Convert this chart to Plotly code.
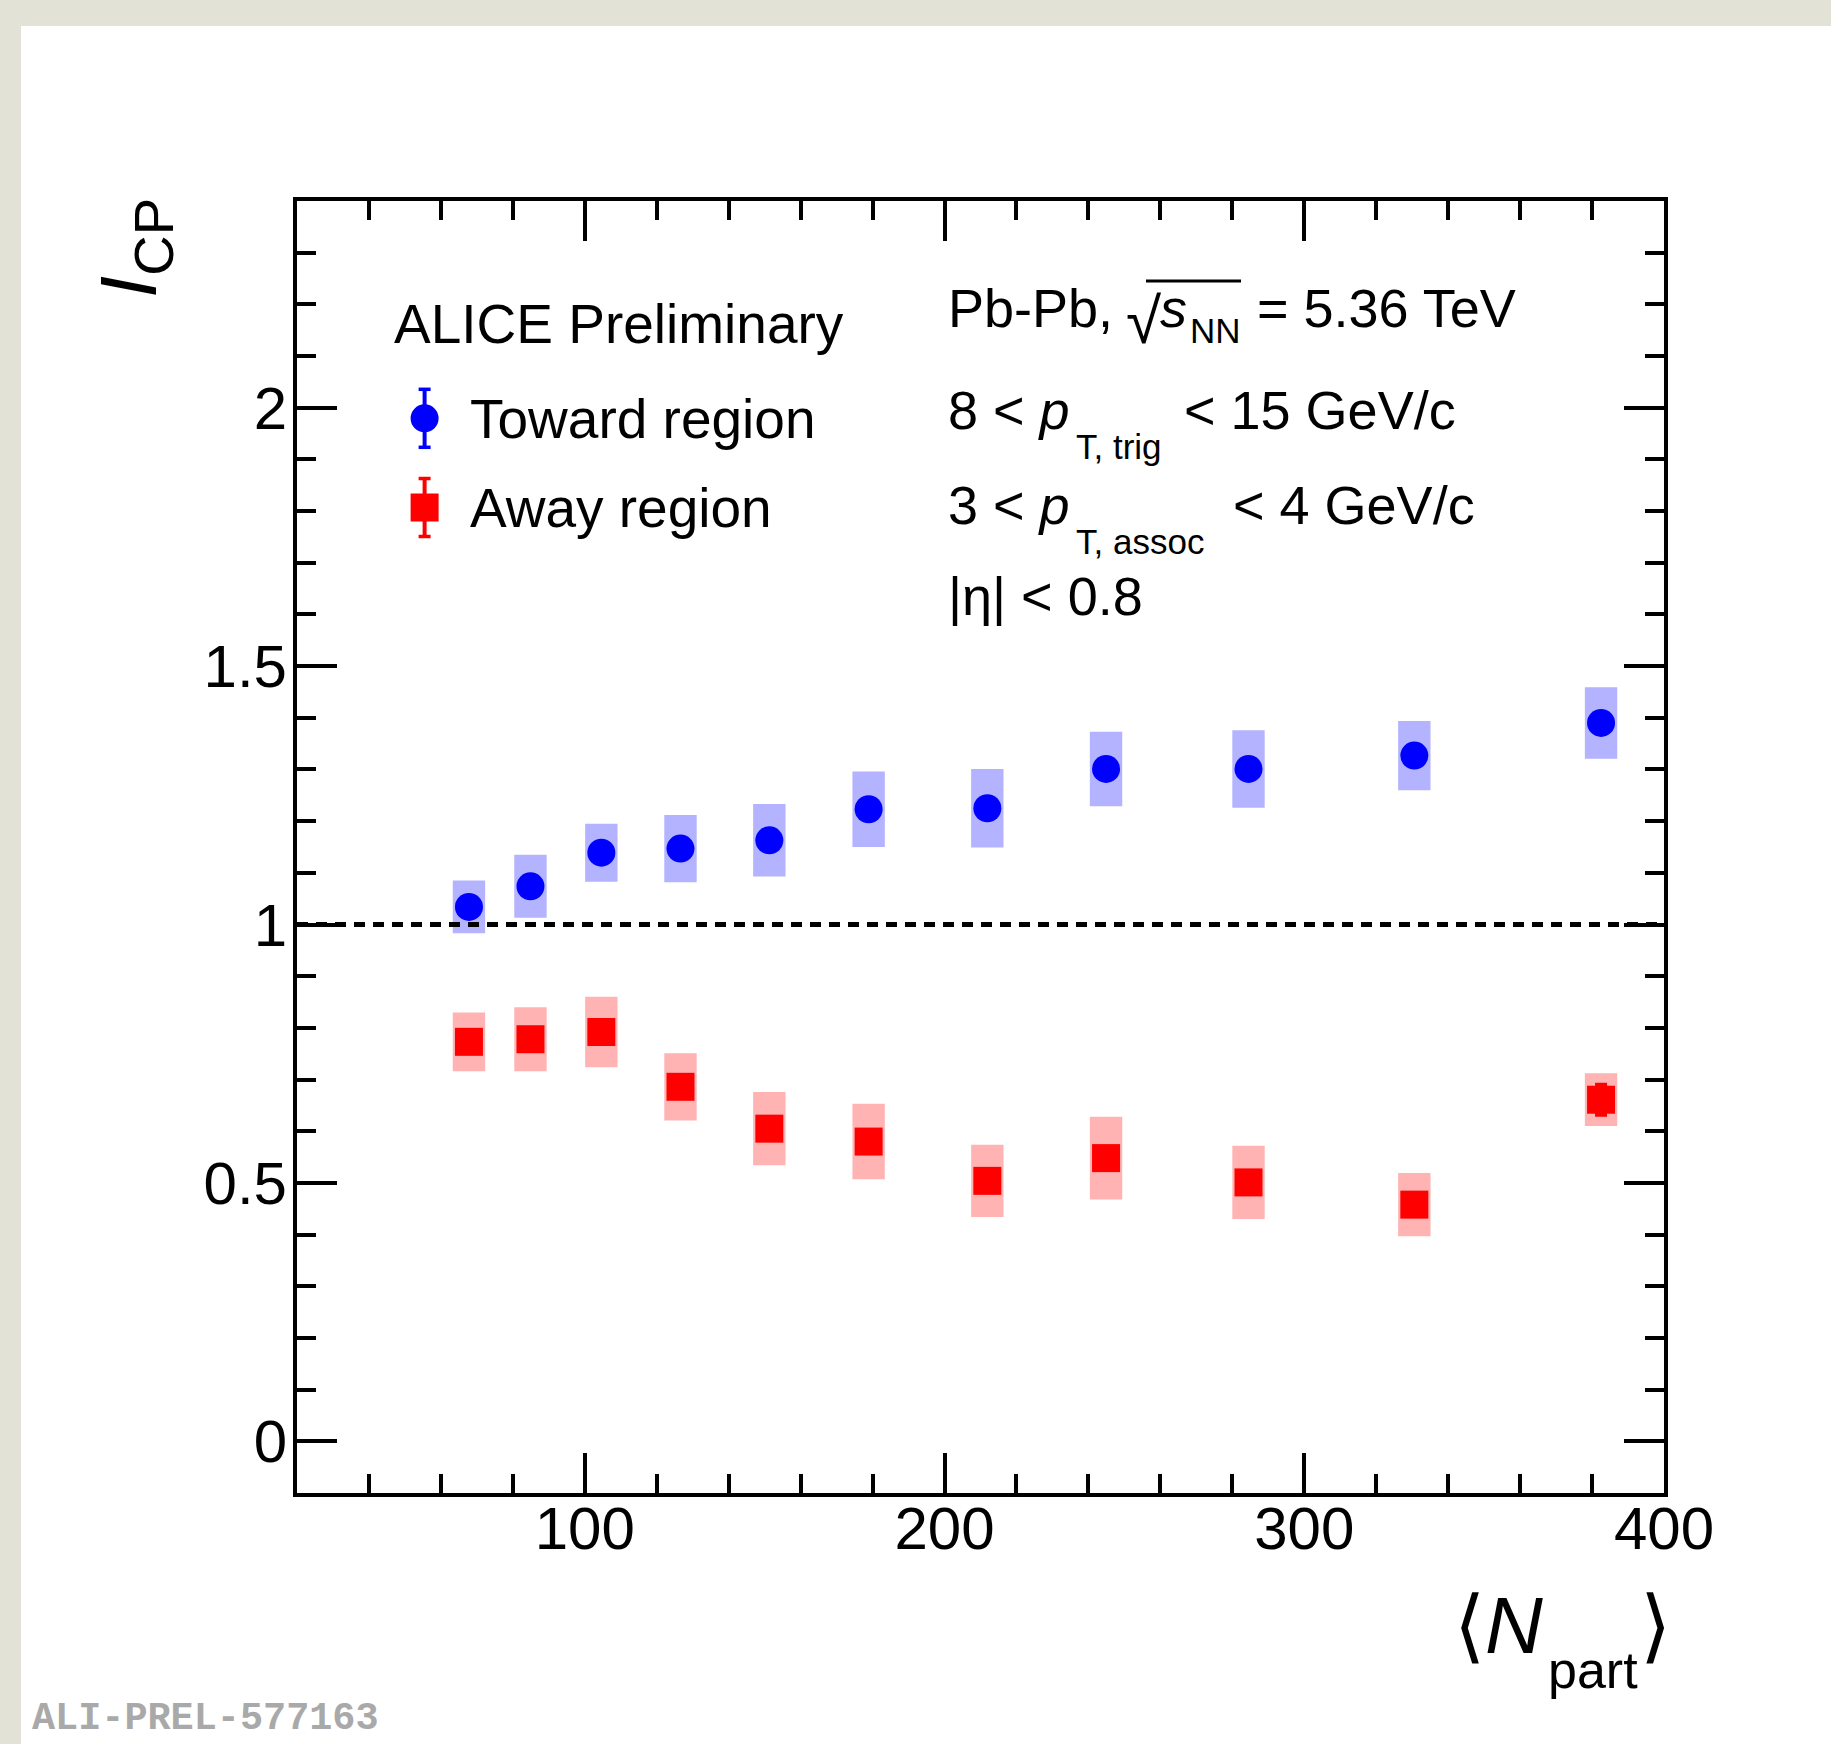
import plotly.graph_objects as go

# ---------------- data ----------------
npart = [67.8, 84.9, 104.6, 126.6, 151.3, 178.9, 211.9, 244.9, 284.5, 330.6, 382.5]

toward = [1.034, 1.074, 1.139, 1.147, 1.163, 1.223, 1.225, 1.301, 1.301, 1.327, 1.390]
toward_stat = [0.015, 0.015, 0.015, 0.015, 0.015, 0.016, 0.016, 0.017, 0.017, 0.018, 0.020]
toward_sys = [0.051, 0.061, 0.056, 0.065, 0.070, 0.073, 0.076, 0.072, 0.075, 0.067, 0.069]

away = [0.773, 0.778, 0.792, 0.686, 0.605, 0.580, 0.504, 0.548, 0.501, 0.458, 0.661]
away_stat = [0.012, 0.012, 0.012, 0.012, 0.012, 0.013, 0.013, 0.014, 0.014, 0.016, 0.029]
away_sys = [0.057, 0.062, 0.068, 0.065, 0.071, 0.073, 0.070, 0.080, 0.071, 0.061, 0.051]

sys_box_width = 9.0          # width of the systematic boxes in <Npart> units
reference_level = 1.0        # dashed line

x_range = [20, 400]
y_range = [-0.1, 2.4]
x_ticks = [100, 200, 300, 400]
y_ticks = [0, 0.5, 1, 1.5, 2]
x_minor_step = 20
y_minor_step = 0.1

# ---------------- styling ----------------
W, H = 1831, 1744
L, R, T, B = 297, 1664, 201, 1493   # plot area (px); frame lines are drawn 2 px outside
FONT = "Liberation Sans, Arial, Helvetica, sans-serif"
BLUE, BLUE_BOX = "#0000ff", "#b3b3ff"
RED, RED_BOX = "#ff0000", "#ffb3b3"
BEIGE = "#e3e2d6"


def fx(p):
    return (p - L) / (R - L)


def fy(p):
    return (B - p) / (B - T)


fig = go.Figure()

# systematic boxes
for vals, sys_, col in [(toward, toward_sys, BLUE_BOX), (away, away_sys, RED_BOX)]:
    fig.add_trace(go.Bar(
        x=npart, y=[2 * s for s in sys_], base=[v - s for v, s in zip(vals, sys_)],
        width=sys_box_width, marker=dict(color=col, line=dict(width=0)),
        hoverinfo="skip", showlegend=False))

# points with statistical errors
for vals, st, col, sym in [(toward, toward_stat, BLUE, "circle"), (away, away_stat, RED, "square")]:
    fig.add_trace(go.Scatter(
        x=npart, y=vals, mode="markers",
        marker=dict(symbol=sym, size=28, color=col, line=dict(width=0)),
        error_y=dict(type="data", array=st, color=col, thickness=4, width=6),
        showlegend=False))

axis_common = dict(
    ticks="inside", tickwidth=4, tickcolor="black", ticklen=40,
    showline=True, linewidth=4, linecolor="black", mirror="allticks",
    showgrid=False, zeroline=False, automargin=False, fixedrange=True,
    tickfont=dict(family=FONT, size=60, color="black"),
)

fig.update_layout(
    width=W, height=H,
    margin=dict(l=L, r=W - R, t=T, b=H - B, pad=0, autoexpand=False),
    paper_bgcolor="white", plot_bgcolor="white",
    barmode="overlay", showlegend=False,
    font=dict(family=FONT, color="black"),
    xaxis=dict(range=x_range, tickvals=x_ticks, ticklabelstandoff=-20, **axis_common,
               minor=dict(dtick=x_minor_step, ticks="inside", ticklen=19, tickwidth=4,
                          tickcolor="black", showgrid=False)),
    yaxis=dict(range=y_range, tickvals=y_ticks, ticklabelstandoff=-6, **axis_common,
               minor=dict(dtick=y_minor_step, ticks="inside", ticklen=19, tickwidth=4,
                          tickcolor="black", showgrid=False)),
)

shapes = []
# page background bands
shapes.append(dict(type="rect", xref="paper", yref="paper", x0=-1, x1=2, y0=fy(26), y1=2,
                   fillcolor=BEIGE, line=dict(width=0), layer="below"))
shapes.append(dict(type="rect", xref="paper", yref="paper", x0=-1, x1=fx(21), y0=-1, y1=2,
                   fillcolor=BEIGE, line=dict(width=0), layer="below"))
# reference dashed line
shapes.append(dict(type="line", xref="paper", yref="y", x0=0, x1=1,
                   y0=reference_level, y1=reference_level,
                   line=dict(color="black", width=5, dash="11px,8px"), layer="above"))


def icon(kind, cx, cy, color):
    ax, ay = fx(cx), fy(cy)
    base = dict(xref="paper", yref="paper", xsizemode="pixel", ysizemode="pixel",
                xanchor=ax, yanchor=ay)
    return [dict(type="line", x0=0, x1=0, y0=-29, y1=29, line=dict(color=color, width=4), **base),
            dict(type="line", x0=-6, x1=6, y0=29, y1=29, line=dict(color=color, width=3.5), **base),
            dict(type="line", x0=-6, x1=6, y0=-29, y1=-29, line=dict(color=color, width=3.5), **base),
            dict(type=kind, x0=-14, x1=14, y0=-14, y1=14, fillcolor=color, line=dict(width=0), **base)]


shapes += icon("circle", 424.6, 418.3, BLUE)
shapes += icon("rect", 424.6, 507.5, RED)
# overline of the square root
shapes.append(dict(type="line", xref="paper", yref="paper", x0=fx(1146), x1=fx(1241),
                   y0=fy(281), y1=fy(281), line=dict(color="black", width=3)))
fig.update_layout(shapes=shapes)

ann = []


def text(s, x, baseline, size, xanchor="left", color="black", family=FONT):
    yc = baseline - 0.3465 * size
    ann.append(dict(text=s, x=fx(x), y=fy(yc), xref="paper", yref="paper",
                    xanchor=xanchor, yanchor="middle", showarrow=False,
                    font=dict(family=family, size=size, color=color)))


# legend texts
text("ALICE Preliminary", 392, 343.3, 55)
text("Toward region", 468, 438.3, 55)
text("Away region", 468, 526.7, 55)

# info block
S, SS = 54, 35
text("Pb-Pb,", 946, 326.7, S)
text("√", 1124, 343, 64)
text("<i>s</i>", 1158, 326.7, S)
text("NN", 1188, 343, SS)
text("= 5.36 TeV", 1255, 326.7, S)
text("8 < <i>p</i>", 946, 428.3, S)
text("T, trig", 1074, 458.3, SS)
text("< 15 GeV/c", 1182, 428.3, S)
text("3 < <i>p</i>", 946, 523.3, S)
text("T, assoc", 1074, 553.3, SS)
text("< 4 GeV/c", 1231, 523.3, S)
text("|η| < 0.8", 946, 615, S)

# x-axis title
text("⟨<i>N</i>", 1452, 1653, 80)
text("part", 1546, 1688, 52)
text("⟩", 1638, 1653, 80)

# y-axis title (rotated)
ann.append(dict(text="<i>I</i><sub>CP</sub>", x=fx(135), y=fy(196), xref="paper", yref="paper",
                xanchor="center", yanchor="top", textangle=-90, showarrow=False,
                font=dict(family=FONT, size=80, color="black")))

# watermark
ann.append(dict(text="<b>ALI-PREL-577163</b>", x=fx(30), y=fy(1743), xref="paper", yref="paper",
                xanchor="left", yanchor="bottom", showarrow=False,
                font=dict(family="Liberation Mono, Courier New, monospace", size=38.5, color="#a9a9a9")))

fig.update_layout(annotations=ann)
fig.write_html("out.html")
